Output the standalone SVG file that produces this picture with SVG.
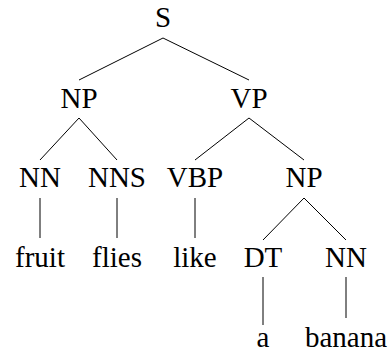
<svg xmlns="http://www.w3.org/2000/svg" width="391" height="352" viewBox="0 0 391 352">
<style>
text{font-family:"Liberation Serif","Times New Roman",serif;font-size:29px;fill:#000;text-anchor:middle}
line{stroke:#000;stroke-width:1}
</style>
<rect width="391" height="352" fill="#fff"/>
<g id="connectors">
<line x1="163" y1="38" x2="79" y2="80"/>
<line x1="163" y1="38" x2="249" y2="80"/>
<line x1="79" y1="118" x2="40" y2="160"/>
<line x1="79" y1="118" x2="117" y2="160"/>
<line x1="249" y1="118" x2="195" y2="160"/>
<line x1="249" y1="118" x2="304" y2="160"/>
<line x1="40" y1="198" x2="40" y2="238"/>
<line x1="117" y1="198" x2="117" y2="238"/>
<line x1="195" y1="198" x2="195" y2="238"/>
<line x1="304" y1="198" x2="263" y2="240"/>
<line x1="304" y1="198" x2="346" y2="240"/>
<line x1="263" y1="277" x2="263" y2="325"/>
<line x1="346" y1="277" x2="346" y2="318"/>
</g>
<g id="S"><text x="163" y="27">S</text></g>
<g id="NP1"><text x="79" y="108">NP</text></g>
<g id="VP"><text x="249" y="108">VP</text></g>
<g id="NN1"><text x="40" y="187">NN</text></g>
<g id="NNS"><text x="117" y="187">NNS</text></g>
<g id="VBP"><text x="195" y="187">VBP</text></g>
<g id="NP2"><text x="304" y="187">NP</text></g>
<g id="fruit"><text x="40" y="267">fruit</text></g>
<g id="flies"><text x="117" y="267">flies</text></g>
<g id="like"><text x="195" y="267">like</text></g>
<g id="DT"><text x="263" y="267">DT</text></g>
<g id="NN2"><text x="346" y="267">NN</text></g>
<g id="a"><text x="263" y="347">a</text></g>
<g id="banana"><text x="346" y="347">banana</text></g>
</svg>
